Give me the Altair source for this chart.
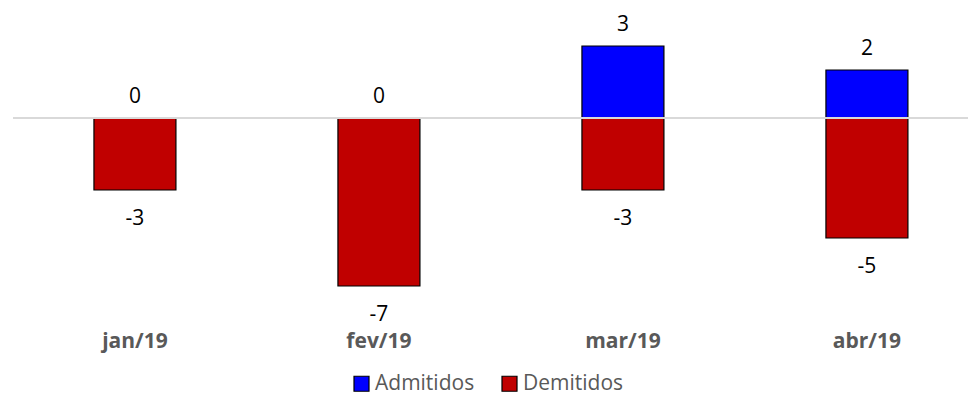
import altair as alt
import pandas as pd

months = ["jan/19", "fev/19", "mar/19", "abr/19"]
admitidos = [0, 0, 3, 2]
demitidos = [-3, -7, -3, -5]
series = ["Admitidos", "Demitidos"]
colors = ["#0000FF", "#C00000"]

rows = []
for m, a, d in zip(months, admitidos, demitidos):
    rows.append({"mes": m, "serie": series[0], "valor": a, "rotulo": str(a)})
    rows.append({"mes": m, "serie": series[1], "valor": d, "rotulo": str(d)})
df = pd.DataFrame(rows)

FONT = "Open Sans"
YDOM = [-8, 4.5]

x = alt.X("mes:N", sort=months, title=None,
          scale=alt.Scale(paddingInner=0.664, paddingOuter=0.289, align=0.574),
          axis=alt.Axis(labelAngle=0, labelFontWeight="bold", labelFontSize=21,
                        labelColor="#595959", labelFont=FONT, ticks=False,
                        domain=False, grid=False, labelPadding=20))
y = alt.Y("valor:Q", title=None, scale=alt.Scale(domain=YDOM, nice=False, zero=True),
          axis=None)

base = alt.Chart(df)

bars = base.mark_bar(stroke="#000000", strokeWidth=1.2).encode(
    x=x, y=y,
    color=alt.Color("serie:N", scale=alt.Scale(domain=series, range=colors),
                    legend=alt.Legend(title=None, orient="none", direction="horizontal",
                                      legendX=338, legendY=363, padding=0,
                                      symbolType="square", symbolSize=225,
                                      symbolStrokeColor="#000000", symbolStrokeWidth=1.2,
                                      labelFontSize=21, labelColor="#595959",
                                      labelFont=FONT, columnPadding=24, labelOffset=3)),
)

top_text = base.transform_filter(alt.datum.serie == "Admitidos").mark_text(
    baseline="alphabetic", dy=-15, fontSize=21, font=FONT, color="#000000"
).encode(x=x, y=y, text="rotulo:N")

bot_text = base.transform_filter(alt.datum.serie == "Demitidos").mark_text(
    baseline="top", dy=18, fontSize=21, font=FONT, color="#000000"
).encode(x=x, y=y, text="rotulo:N")

zero = alt.Chart(pd.DataFrame({"v": [0]})).mark_rule(color="#D9D9D9", strokeWidth=2).encode(
    y=alt.Y("v:Q", scale=alt.Scale(domain=YDOM, nice=False), axis=None)
)

chart = alt.layer(bars, zero, top_text, bot_text).properties(
    width=955, height=300,
    autosize=alt.AutoSizeParams(type="none"),
    padding={"left": 5, "top": 2, "right": 0, "bottom": 86},
).configure_view(stroke=None)

chart.save("out.html", embed_options={"renderer": "svg", "actions": False})
